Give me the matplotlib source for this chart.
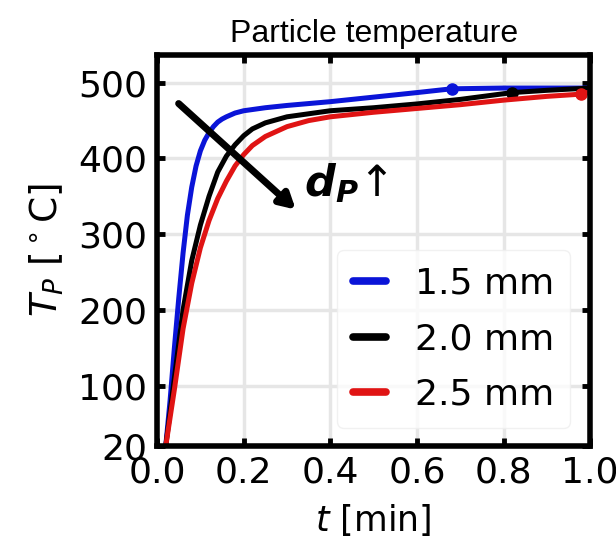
import numpy as np
import matplotlib.pyplot as plt

# Particle temperature vs time, three particle diameters
t_15 = [0.02, 0.03, 0.04, 0.05, 0.06, 0.07, 0.08, 0.09, 0.10, 0.11, 0.12, 0.13,
        0.14, 0.15, 0.16, 0.18, 0.20, 0.25, 0.30, 0.40, 0.50, 0.60, 0.68, 0.80,
        0.90, 1.0]
T_15 = [20, 80, 150, 215, 275, 325, 362, 390, 410, 424, 434, 442,
        448, 452, 455, 460, 463, 467, 470, 475, 481, 487, 492, 493,
        493, 493]

t_20 = [0.02, 0.04, 0.06, 0.08, 0.10, 0.12, 0.14, 0.16, 0.18, 0.20, 0.22, 0.25,
        0.30, 0.40, 0.50, 0.60, 0.70, 0.82, 0.90, 1.0]
T_20 = [20, 110, 200, 265, 312, 350, 382, 403, 418, 430, 439, 447,
        455, 463, 467, 472, 478, 487, 490, 493]

t_25 = [0.02, 0.04, 0.06, 0.08, 0.10, 0.12, 0.14, 0.16, 0.18, 0.20, 0.22, 0.25,
        0.30, 0.35, 0.40, 0.50, 0.60, 0.70, 0.80, 0.90, 0.98, 1.0]
T_25 = [20, 95, 175, 235, 282, 318, 347, 370, 390, 405, 417, 429,
        442, 450, 455, 461, 466, 471, 477, 482, 485, 488]

labels = ['1.5 mm', '2.0 mm', '2.5 mm']
colors = ['#0a14d8', '#000000', '#e01414']

# end-point markers
mark_t = [0.68, 0.82, 0.98]
mark_T = [492, 487, 485]

xticks = [0.0, 0.2, 0.4, 0.6, 0.8, 1.0]
yticks = [20, 100, 200, 300, 400, 500]

fig = plt.figure(figsize=(6.16, 5.42), dpi=100)
ax = fig.add_axes([0.255, 0.177, 0.703, 0.722])

series = [(t_15, T_15), (t_20, T_20), (t_25, T_25)]
for (t, T), lab, c, mt, mT in zip(series, labels, colors, mark_t, mark_T):
    ax.plot(t, T, color=c, linewidth=3.6, label=lab, solid_capstyle='round')
    ax.plot(mt, mT, 'o', color=c, markersize=8)

ax.set_xlim(0, 1.0)
ax.set_ylim(20, 537)
ax.set_xticks(xticks)
ax.set_yticks(yticks)
ax.tick_params(direction='in', top=True, right=True, length=6, width=3.5,
               labelsize=26, pad=7)
ax.grid(True, color='#e6e6e6', linewidth=2.5)
for s in ax.spines.values():
    s.set_linewidth(4)

ax.set_xlabel('$t$ [min]', fontsize=25, labelpad=9)
ax.set_ylabel(r'$T_P$ [$^\circ$C]', fontsize=27, labelpad=9)
ax.set_title('Particle temperature', fontsize=23, family='Liberation Sans', pad=9)

ax.annotate('', xy=(0.325, 330), xytext=(0.045, 475),
            arrowprops=dict(arrowstyle='-|>,head_length=0.9,head_width=0.5',
                            color='black', lw=5))
ax.text(0.34, 368, r'$\mathbfit{d}_{\mathbfit{P}}$' + '\u2191', fontsize=31,
        ha='left', va='center')

leg = ax.legend(loc='lower right', fontsize=26, handlelength=0.9,
                frameon=True, borderpad=0.45, labelspacing=0.6,
                handletextpad=0.8, borderaxespad=0,
                bbox_to_anchor=(0.954, 0.046))
leg.get_frame().set_edgecolor('#eeeeee')
for line in leg.get_lines():
    line.set_linewidth(5.5)

fig.savefig('out.png', dpi=100)
